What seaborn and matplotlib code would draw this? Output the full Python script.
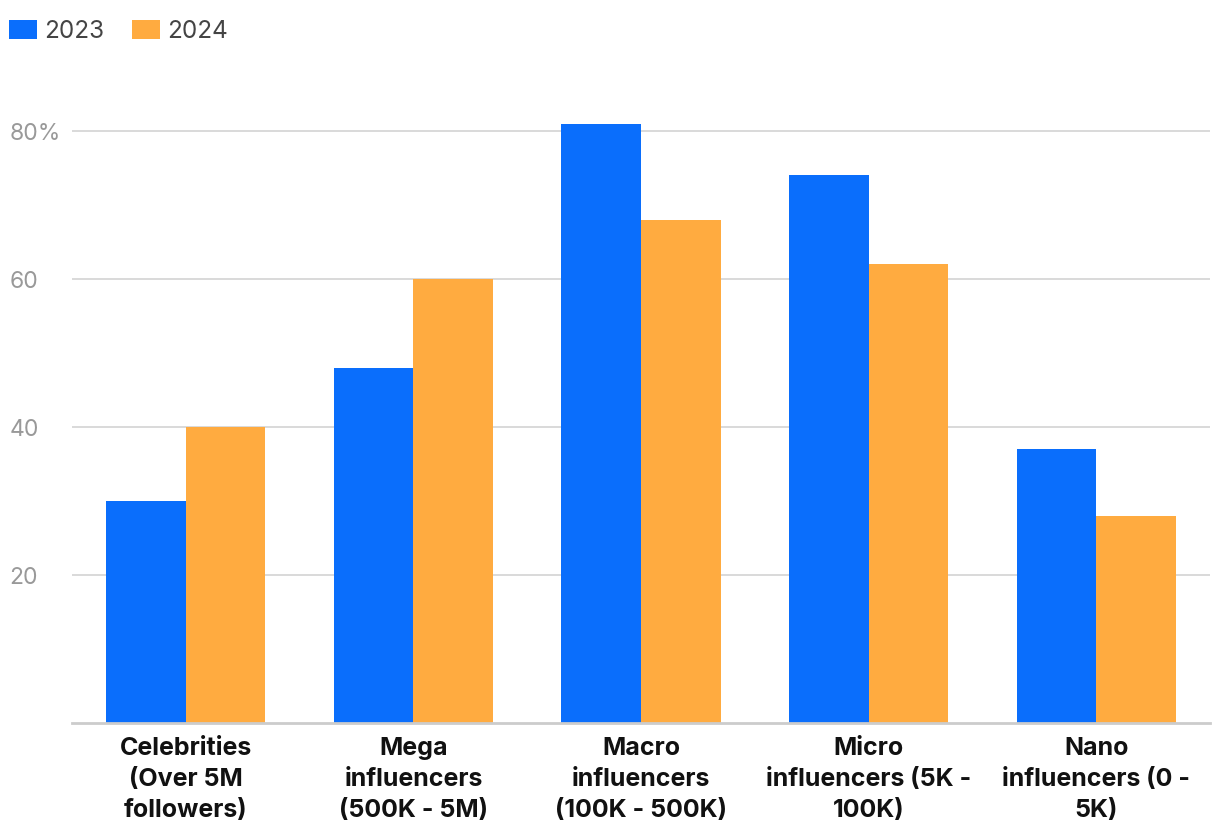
import pandas as pd
import seaborn as sns
import matplotlib.pyplot as plt

categories = ['Celebrities\n(Over 5M\nfollowers)', 'Mega\ninfluencers\n(500K - 5M)',
              'Macro\ninfluencers\n(100K - 500K)', 'Micro\ninfluencers (5K -\n100K)',
              'Nano\ninfluencers (0 -\n5K)']
years = ['2023', '2024']
values_2023 = [30, 48, 81, 74, 37]
values_2024 = [40, 60, 68, 62, 28]
yticks = [20, 40, 60, 80]
ytick_labels = ['20', '40', '60', '80%']

df = pd.DataFrame({
    'category': categories * 2,
    'year': [years[0]] * 5 + [years[1]] * 5,
    'value': values_2023 + values_2024,
})

sns.set_theme(style='white')
plt.rcParams['font.family'] = ['Inter', 'DejaVu Sans']

fig = plt.figure(figsize=(12.2, 8.4), dpi=100)
W, H = 1220, 840
ax = fig.add_axes([72 / W, (H - 723) / H, (1210 - 72) / W, (723 - 94) / H])

palette = {'2023': '#0A6EFC', '2024': '#FFAB40'}
sns.barplot(data=df, x='category', y='value', hue='year', palette=palette,
            width=0.7, saturation=1, linewidth=0, ax=ax, legend=True)

ax.set_ylim(0, 85)
ax.set_xlim(-0.5, 4.5)
ax.set_yticks(yticks)
ax.set_yticklabels(ytick_labels)
ax.yaxis.grid(True, color='#d9d9d9', linewidth=1.4)
ax.set_axisbelow(True)
for s in ['top', 'right', 'left']:
    ax.spines[s].set_visible(False)
ax.spines['bottom'].set_color('#cccccc')
ax.spines['bottom'].set_linewidth(2)
ax.set_xlabel('')
ax.set_ylabel('')

ax.tick_params(axis='y', length=0, labelsize=16.5, labelcolor='#999999', pad=45)
for lbl in ax.get_yticklabels():
    lbl.set_horizontalalignment('left')
ax.tick_params(axis='x', length=0, labelsize=18, labelcolor='#111111', pad=10)
for lbl in ax.get_xticklabels():
    lbl.set_fontweight('bold')
    lbl.set_linespacing(1.45)

handles, labels = ax.get_legend_handles_labels()
ax.legend(handles, labels, loc='upper left', bbox_to_anchor=(9 / W, 1 - 20 / H),
          bbox_transform=fig.transFigure, ncol=2, frameon=False, fontsize=17.5,
          borderpad=0, borderaxespad=0,
          handlelength=1.15, handleheight=0.8, handletextpad=0.3, columnspacing=1.15,
          labelcolor='#444444')

fig.savefig('out.png', dpi=100, facecolor='white')
